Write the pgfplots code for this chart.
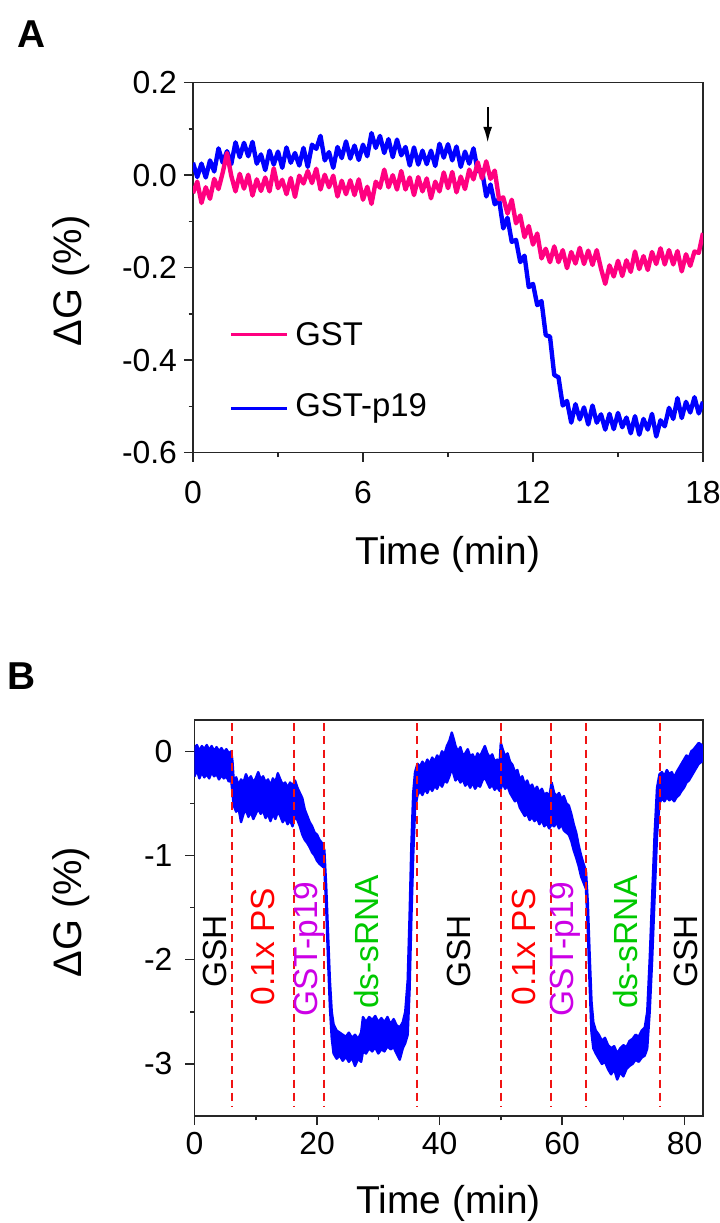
\documentclass[border=0pt]{standalone}
\usepackage{fontspec}
\setmainfont{Liberation Sans}
\usepackage{pgfplots}
\pgfplotsset{compat=1.18}
\usetikzlibrary{arrows.meta}

\definecolor{gstpink}{RGB}{255,0,128}
\definecolor{p19blue}{RGB}{0,0,255}
\definecolor{lblred}{RGB}{255,0,0}
\definecolor{lblmag}{RGB}{204,0,230}
\definecolor{lblgreen}{RGB}{0,200,0}
\definecolor{dashred}{RGB}{240,20,20}

\pgfplotsset{
  panel/.style={
    scale only axis,
    anchor=north west,
    axis line style={black!85, line width=0.75bp},
    every tick/.style={black!85, line width=0.75bp},
    tick align=outside,
    xtick pos=bottom, ytick pos=left,
    major tick length=4.5bp, minor tick length=2.2bp,
    tick label style={font=\fontsize{16}{18}\selectfont},
    label style={font=\fontsize{19.5}{22}\selectfont},
    /pgf/number format/assume math mode=true,
  }
}

\begin{document}
\begin{tikzpicture}
\useasboundingbox (0,0) rectangle (360bp,-611.5bp);

\node[font=\fontsize{19.5}{22}\selectfont\bfseries] at (16bp,-17bp) {A};
\node[font=\fontsize{19.5}{22}\selectfont\bfseries] at (11bp,-338bp) {B};

% ---------------- panel A ----------------
\begin{axis}[panel,
  at={(96.5bp,-41.35bp)}, width=255bp, height=185bp,
  xmin=0, xmax=18, ymin=-0.6, ymax=0.2,
  xtick={0,6,12,18}, minor xtick={3,9,15},
  ytick={-0.6,-0.4,-0.2,0,0.2}, minor ytick={-0.5,-0.3,-0.1,0.1},
  y tick label style={/pgf/number format/.cd, fixed, fixed zerofill, precision=1, /tikz/.cd},
  x tick label style={yshift=-6bp},
  xlabel={Time (min)}, ylabel={ΔG (\%)},
  xlabel style={at={(axis description cs:0.5,-0.276)}, anchor=center},
  ylabel style={at={(axis description cs:-0.239,0.464)}, anchor=center, font=\fontsize{20}{22}\selectfont},
]
% GST-p19
\addplot[p19blue, line width=2.2bp, line join=round] coordinates {
(0,0.027)(0.15,-0.004)(0.3,0.025)(0.45,-0.005)(0.6,0.032)(0.75,0.008)(0.9,0.058)(1.05,0.027)(1.2,0.052)(1.35,0.024)
(1.5,0.071)(1.65,0.039)(1.8,0.07)(1.95,0.041)(2.1,0.072)(2.25,0.025)(2.4,0.045)(2.55,0.011)(2.7,0.053)(2.85,0.023)
(3,0.051)(3.15,0.016)(3.3,0.06)(3.45,0.027)(3.6,0.048)(3.75,0.021)(3.9,0.059)(4.05,0.018)(4.2,0.066)(4.35,0.057)
(4.5,0.085)(4.65,0.032)(4.8,0.05)(4.95,0.016)(5.1,0.061)(5.25,0.037)(5.4,0.073)(5.55,0.036)(5.7,0.064)(5.85,0.033)
(6,0.066)(6.15,0.041)(6.3,0.091)(6.45,0.059)(6.6,0.085)(6.75,0.048)(6.9,0.078)(7.05,0.039)(7.2,0.077)(7.35,0.043)
(7.5,0.061)(7.65,0.021)(7.8,0.06)(7.95,0.023)(8.1,0.053)(8.25,0.024)(8.4,0.053)(8.55,0.02)(8.7,0.068)(8.85,0.038)
(9,0.067)(9.15,0.032)(9.3,0.062)(9.45,0.018)(9.6,0.051)(9.75,0.025)(9.9,0.058)(10.05,0.009)(10.2,0.011)(10.35,-0.046)
(10.5,-0.02)(10.65,-0.063)(10.8,-0.051)(10.95,-0.115)(11.1,-0.092)(11.25,-0.144)(11.4,-0.14)(11.55,-0.188)(11.7,-0.174)(11.85,-0.242)
(12,-0.235)(12.15,-0.281)(12.3,-0.272)(12.45,-0.346)(12.6,-0.349)(12.75,-0.432)(12.9,-0.437)(13.05,-0.498)(13.2,-0.488)(13.35,-0.535)
(13.5,-0.495)(13.65,-0.528)(13.8,-0.502)(13.95,-0.539)(14.1,-0.498)(14.25,-0.535)(14.4,-0.517)(14.55,-0.55)(14.7,-0.516)(14.85,-0.549)
(15,-0.514)(15.15,-0.545)(15.3,-0.524)(15.45,-0.558)(15.6,-0.521)(15.75,-0.561)(15.9,-0.527)(16.05,-0.55)(16.2,-0.516)(16.35,-0.565)
(16.5,-0.53)(16.65,-0.543)(16.8,-0.503)(16.95,-0.527)(17.1,-0.482)(17.25,-0.525)(17.4,-0.49)(17.55,-0.513)(17.7,-0.48)(17.85,-0.515)
(18,-0.49)
};
% GST
\addplot[gstpink, line width=2.2bp, line join=round] coordinates {
(0,-0.039)(0.15,-0.014)(0.3,-0.06)(0.45,-0.026)(0.6,-0.051)(0.75,-0.008)(0.9,-0.03)(1.05,0.006)(1.2,0.048)(1.35,-0.001)
(1.5,-0.035)(1.65,0.003)(1.8,-0.029)(1.95,0.001)(2.1,-0.044)(2.25,-0.009)(2.4,-0.034)(2.55,-0.005)(2.7,-0.035)(2.85,0.015)
(3,-0.028)(3.15,-0.01)(3.3,-0.041)(3.45,-0.006)(3.6,-0.047)(3.75,-0.001)(3.9,-0.018)(4.05,0.009)(4.2,-0.017)(4.35,0.014)
(4.5,-0.031)(4.65,0.001)(4.8,-0.026)(4.95,-0.001)(5.1,-0.046)(5.25,-0.012)(5.4,-0.041)(5.55,-0.011)(5.7,-0.043)(5.85,-0.009)
(6,-0.053)(6.15,-0.025)(6.3,-0.062)(6.45,-0.014)(6.6,-0.027)(6.75,0.012)(6.9,-0.026)(7.05,0)(7.2,-0.031)(7.35,0.009)
(7.5,-0.031)(7.65,-0.005)(7.8,-0.043)(7.95,-0.004)(8.1,-0.035)(8.25,-0.007)(8.4,-0.05)(8.55,-0.014)(8.7,-0.035)(8.85,0.006)
(9,-0.028)(9.15,0.007)(9.3,-0.037)(9.45,-0.003)(9.6,-0.03)(9.75,0.012)(9.9,-0.009)(10.05,0.028)(10.2,-0.007)(10.35,0.03)
(10.5,-0.008)(10.65,0.01)(10.8,-0.052)(10.95,-0.048)(11.1,-0.083)(11.25,-0.053)(11.4,-0.104)(11.55,-0.087)(11.7,-0.134)(11.85,-0.11)
(12,-0.15)(12.15,-0.126)(12.3,-0.18)(12.45,-0.159)(12.6,-0.188)(12.75,-0.154)(12.9,-0.188)(13.05,-0.162)(13.2,-0.201)(13.35,-0.166)
(13.5,-0.191)(13.65,-0.157)(13.8,-0.192)(13.95,-0.163)(14.1,-0.194)(14.25,-0.162)(14.4,-0.202)(14.55,-0.235)(14.7,-0.195)(14.85,-0.219)
(15,-0.185)(15.15,-0.218)(15.3,-0.184)(15.45,-0.209)(15.6,-0.165)(15.75,-0.203)(15.9,-0.175)(16.05,-0.205)(16.2,-0.166)(16.35,-0.192)
(16.5,-0.158)(16.65,-0.193)(16.8,-0.162)(16.95,-0.193)(17.1,-0.164)(17.25,-0.208)(17.4,-0.171)(17.55,-0.196)(17.7,-0.165)(17.85,-0.168)
(18,-0.125)
};
% legend
\draw[gstpink, line width=1.7bp] (axis cs:1.35,-0.344) -- (axis cs:3.33,-0.344);
\draw[p19blue, line width=1.7bp] (axis cs:1.35,-0.504) -- (axis cs:3.33,-0.504);
\node[anchor=west, inner sep=0pt, font=\fontsize{16.5}{18}\selectfont] at (axis cs:3.6,-0.344) {GST};
\node[anchor=west, inner sep=0pt, font=\fontsize{16.5}{18}\selectfont] at (axis cs:3.6,-0.504) {GST-p19};
% injection arrow
\draw[-{Latex[length=8bp,width=4.5bp]}, line width=1.1bp] (axis cs:10.4,0.147) -- (axis cs:10.4,0.07);
\end{axis}

% ---------------- panel B ----------------
\begin{axis}[panel,
  at={(97.25bp,-360bp)}, width=254.25bp, height=198bp,
  xmin=0, xmax=83, ymin=-3.5, ymax=0.3,
  xtick={0,20,40,60,80}, minor xtick={10,30,50,70},
  ytick={-3,-2,-1,0}, minor ytick={-2.5,-1.5,-0.5},
  y tick label style={xshift=-3bp},
  xlabel={Time (min)}, ylabel={ΔG (\%)},
  xlabel style={at={(axis description cs:0.5,-0.22)}, anchor=center},
  ylabel style={at={(axis description cs:-0.243,0.515)}, anchor=center, font=\fontsize{20}{22}\selectfont},
]
\addplot[p19blue, fill=p19blue, line width=1.2bp, line join=round] coordinates {
(0,0.03)(0.4,0.06)(0.8,0.0)(1.2,0.05)(1.6,0.02)(2,0.06)(2.4,0.01)(2.8,0.05)(3.2,0.0)(3.6,0.04)(4,0.0)(4.4,0.03)(4.8,-0.01)(5.2,0.02)(5.6,-0.02)(6.0,0.0)
(6.2,-0.1)(6.4,-0.28)(6.8,-0.25)(7.2,-0.33)(7.6,-0.27)(8.0,-0.3)(8.4,-0.22)(8.8,-0.28)(9.2,-0.24)(9.6,-0.3)(10.0,-0.26)(10.4,-0.2)(10.8,-0.27)(11.2,-0.24)
(11.6,-0.3)(12.0,-0.27)(12.4,-0.33)(12.8,-0.26)(13.2,-0.3)(13.6,-0.21)(14.0,-0.27)(14.4,-0.32)(14.8,-0.3)(15.2,-0.35)(15.6,-0.3)(16.0,-0.33)(16.4,-0.28)
(16.8,-0.35)(17.2,-0.4)(17.6,-0.45)(18.0,-0.56)(18.4,-0.62)(18.8,-0.68)(19.2,-0.72)(19.6,-0.78)(20.0,-0.8)(20.4,-0.85)(20.8,-0.88)(21.2,-0.95)
(21.5,-1.3)(21.8,-1.75)(22.1,-2.2)(22.4,-2.5)(22.7,-2.62)(23.2,-2.68)(23.7,-2.7)(24.2,-2.72)(24.7,-2.74)(25.2,-2.7)(25.7,-2.75)(26.2,-2.72)(26.7,-2.76)
(27.2,-2.7)(27.5,-2.55)(28,-2.6)(28.5,-2.55)(29,-2.58)(29.5,-2.54)(30,-2.6)(30.5,-2.56)(31,-2.6)(31.5,-2.55)(32,-2.62)(32.5,-2.57)(33,-2.63)(33.5,-2.65)
(34,-2.6)(34.4,-2.5)(34.8,-2.2)(35.1,-1.6)(35.4,-0.9)(35.7,-0.4)(36.0,-0.2)(36.4,-0.12)(36.8,-0.15)(37.2,-0.1)(37.6,-0.14)(38.0,-0.08)(38.4,-0.12)
(38.8,-0.06)(39.2,-0.1)(39.6,-0.04)(40,-0.07)(40.4,0.0)(40.8,-0.03)(41.2,0.05)(41.6,0.1)(42.0,0.18)(42.3,0.12)(42.6,0.05)(43.0,0.0)(43.4,0.04)
(43.8,-0.04)(44.2,-0.02)(44.6,0.02)(45,-0.05)(45.4,-0.03)(45.8,-0.08)(46.2,-0.02)(46.6,-0.05)(47,0.0)(47.4,0.05)(47.8,-0.02)(48.2,-0.06)(48.6,-0.03)
(49,-0.1)(49.4,-0.08)(49.8,-0.12)(50.0,0.08)(50.3,0.02)(50.7,-0.05)(51.1,-0.02)(51.5,-0.1)(51.9,-0.13)(52.3,-0.2)(52.7,-0.18)(53.1,-0.27)(53.5,-0.24)
(53.9,-0.32)(54.3,-0.28)(54.7,-0.35)(55.1,-0.32)(55.5,-0.38)(55.9,-0.34)(56.3,-0.4)(56.7,-0.36)(57.1,-0.42)(57.5,-0.4)(57.9,-0.44)(58.3,-0.3)(58.7,-0.4)
(59.1,-0.43)(59.5,-0.4)(59.9,-0.46)(60.3,-0.43)(60.7,-0.5)(61.1,-0.52)(61.5,-0.6)(61.9,-0.7)(62.3,-0.78)(62.7,-0.9)(63.1,-1.0)(63.5,-1.08)(63.9,-1.15)
(64.2,-1.45)(64.5,-1.95)(64.8,-2.4)(65.1,-2.6)(65.5,-2.68)(66.0,-2.72)(66.5,-2.78)(67.0,-2.75)(67.5,-2.82)(68.0,-2.85)(68.5,-2.83)(69.0,-2.9)(69.5,-2.85)
(70.0,-2.82)(70.5,-2.84)(71.0,-2.78)(71.5,-2.76)(72.0,-2.72)(72.5,-2.74)(73.0,-2.68)(73.5,-2.65)(73.9,-2.5)(74.3,-2.0)(74.7,-1.4)(75.1,-0.8)(75.5,-0.35)
(75.9,-0.22)(76.3,-0.2)(76.7,-0.24)(77.1,-0.18)(77.5,-0.22)(77.9,-0.2)(78.3,-0.25)(78.7,-0.2)(79.1,-0.16)(79.5,-0.12)(79.9,-0.08)(80.3,-0.04)(80.7,-0.06)
(81.1,0.0)(81.5,0.02)(81.9,0.05)(82.3,0.08)(82.8,0.06)
(82.8,-0.1)(82.3,-0.12)(81.9,-0.16)(81.5,-0.2)(81.1,-0.24)(80.7,-0.28)(80.3,-0.3)(79.9,-0.35)(79.5,-0.38)(79.1,-0.42)(78.7,-0.44)(78.3,-0.48)(77.9,-0.45)
(77.5,-0.47)(77.1,-0.44)(76.7,-0.48)(76.3,-0.45)(75.9,-0.5)(75.5,-0.8)(75.1,-1.4)(74.7,-2.0)(74.3,-2.5)(73.9,-2.85)(73.5,-2.92)(73.0,-2.94)(72.5,-2.98)
(72.0,-2.96)(71.5,-3.0)(71.0,-3.02)(70.5,-3.05)(70.0,-3.12)(69.5,-3.08)(69.0,-3.15)(68.5,-3.05)(68.0,-3.1)(67.5,-3.05)(67.0,-2.98)(66.5,-3.0)(66.0,-2.95)
(65.5,-2.9)(65.1,-2.85)(64.8,-2.7)(64.5,-2.25)(64.2,-1.7)(63.9,-1.32)(63.5,-1.26)(63.1,-1.2)(62.7,-1.1)(62.3,-1.02)(61.9,-0.95)(61.5,-0.86)(61.1,-0.8)
(60.7,-0.78)(60.3,-0.76)(59.9,-0.7)(59.5,-0.74)(59.1,-0.68)(58.7,-0.72)(58.3,-0.7)(57.9,-0.74)(57.5,-0.69)(57.1,-0.72)(56.7,-0.66)(56.3,-0.7)(55.9,-0.64)
(55.5,-0.67)(55.1,-0.63)(54.7,-0.66)(54.3,-0.6)(53.9,-0.62)(53.5,-0.58)(53.1,-0.54)(52.7,-0.46)(52.3,-0.48)(51.9,-0.44)(51.5,-0.4)(51.1,-0.33)(50.7,-0.36)
(50.3,-0.3)(50.0,-0.36)(49.8,-0.38)(49.4,-0.34)(49,-0.37)(48.6,-0.32)(48.2,-0.35)(47.8,-0.3)(47.4,-0.25)(47,-0.28)(46.6,-0.34)(46.2,-0.32)(45.8,-0.36)
(45.4,-0.3)(45,-0.35)(44.6,-0.3)(44.2,-0.33)(43.8,-0.27)(43.4,-0.3)(43.0,-0.25)(42.6,-0.28)(42.3,-0.22)(42.0,-0.16)(41.6,-0.24)(41.2,-0.3)(40.8,-0.28)
(40.4,-0.34)(40,-0.3)(39.6,-0.36)(39.2,-0.33)(38.8,-0.38)(38.4,-0.34)(38.0,-0.4)(37.6,-0.36)(37.2,-0.42)(36.8,-0.38)(36.4,-0.42)(36.0,-0.55)(35.7,-1.0)
(35.4,-1.6)(35.1,-2.3)(34.8,-2.72)(34.4,-2.8)(34,-2.85)(33.5,-2.96)(33,-2.9)(32.5,-2.84)(32,-2.86)(31.5,-2.83)(31,-2.88)(30.5,-2.86)(30,-2.9)(29.5,-2.84)
(29,-2.88)(28.5,-2.85)(28,-2.9)(27.5,-2.88)(27.2,-2.98)(26.7,-2.95)(26.2,-3.02)(25.7,-2.94)(25.2,-2.98)(24.7,-2.93)(24.2,-2.97)(23.7,-2.92)(23.2,-2.95)
(22.7,-2.9)(22.4,-2.75)(22.1,-2.45)(21.8,-2.0)(21.5,-1.5)(21.2,-1.12)(20.8,-1.1)(20.4,-1.08)(20.0,-1.05)(19.6,-1.0)(19.2,-0.97)(18.8,-0.92)(18.4,-0.88)
(18.0,-0.85)(17.6,-0.8)(17.2,-0.72)(16.8,-0.66)(16.4,-0.62)(16.0,-0.72)(15.6,-0.66)(15.2,-0.7)(14.8,-0.64)(14.4,-0.68)(14.0,-0.62)(13.6,-0.58)(13.2,-0.65)
(12.8,-0.6)(12.4,-0.67)(12.0,-0.6)(11.6,-0.64)(11.2,-0.57)(10.8,-0.6)(10.4,-0.55)(10.0,-0.6)(9.6,-0.65)(9.2,-0.58)(8.8,-0.63)(8.4,-0.56)(8.0,-0.6)
(7.6,-0.68)(7.2,-0.55)(6.8,-0.58)(6.4,-0.52)(6.2,-0.4)(6.0,-0.28)(5.6,-0.29)(5.2,-0.24)(4.8,-0.26)(4.4,-0.23)(4,-0.27)(3.6,-0.22)(3.2,-0.24)(2.8,-0.2)
(2.4,-0.26)(2,-0.22)(1.6,-0.25)(1.2,-0.2)(0.8,-0.26)(0.4,-0.18)(0,-0.24)(0,0.03)
};
% injection markers
\pgfplotsinvokeforeach{6.2,16.3,21.2,36.3,50,58.2,63.9,76}{
  \addplot[dashred, line width=1bp, dash pattern=on 4bp off 2.6bp] coordinates {(#1,0.27) (#1,-3.41)};
}
\begin{scope}[every node/.style={rotate=90, anchor=center, inner sep=0pt, font=\fontsize{16.8}{19}\selectfont}]
\node[black]     at (axis cs:3.4,-1.92)  {GSH};
\node[lblred]    at (axis cs:11.2,-1.875) {0.1x PS};
\node[lblmag]    at (axis cs:18.8,-1.90) {GST-p19};
\node[lblgreen]  at (axis cs:28.0,-1.83) {ds-sRNA};
\node[black]     at (axis cs:43.2,-1.92) {GSH};
\node[lblred]    at (axis cs:53.7,-1.875) {0.1x PS};
\node[lblmag]    at (axis cs:60.6,-1.90) {GST-p19};
\node[lblgreen]  at (axis cs:70.3,-1.83) {ds-sRNA};
\node[black]     at (axis cs:80.2,-1.92) {GSH};
\end{scope}
\end{axis}
\end{tikzpicture}
\end{document}
